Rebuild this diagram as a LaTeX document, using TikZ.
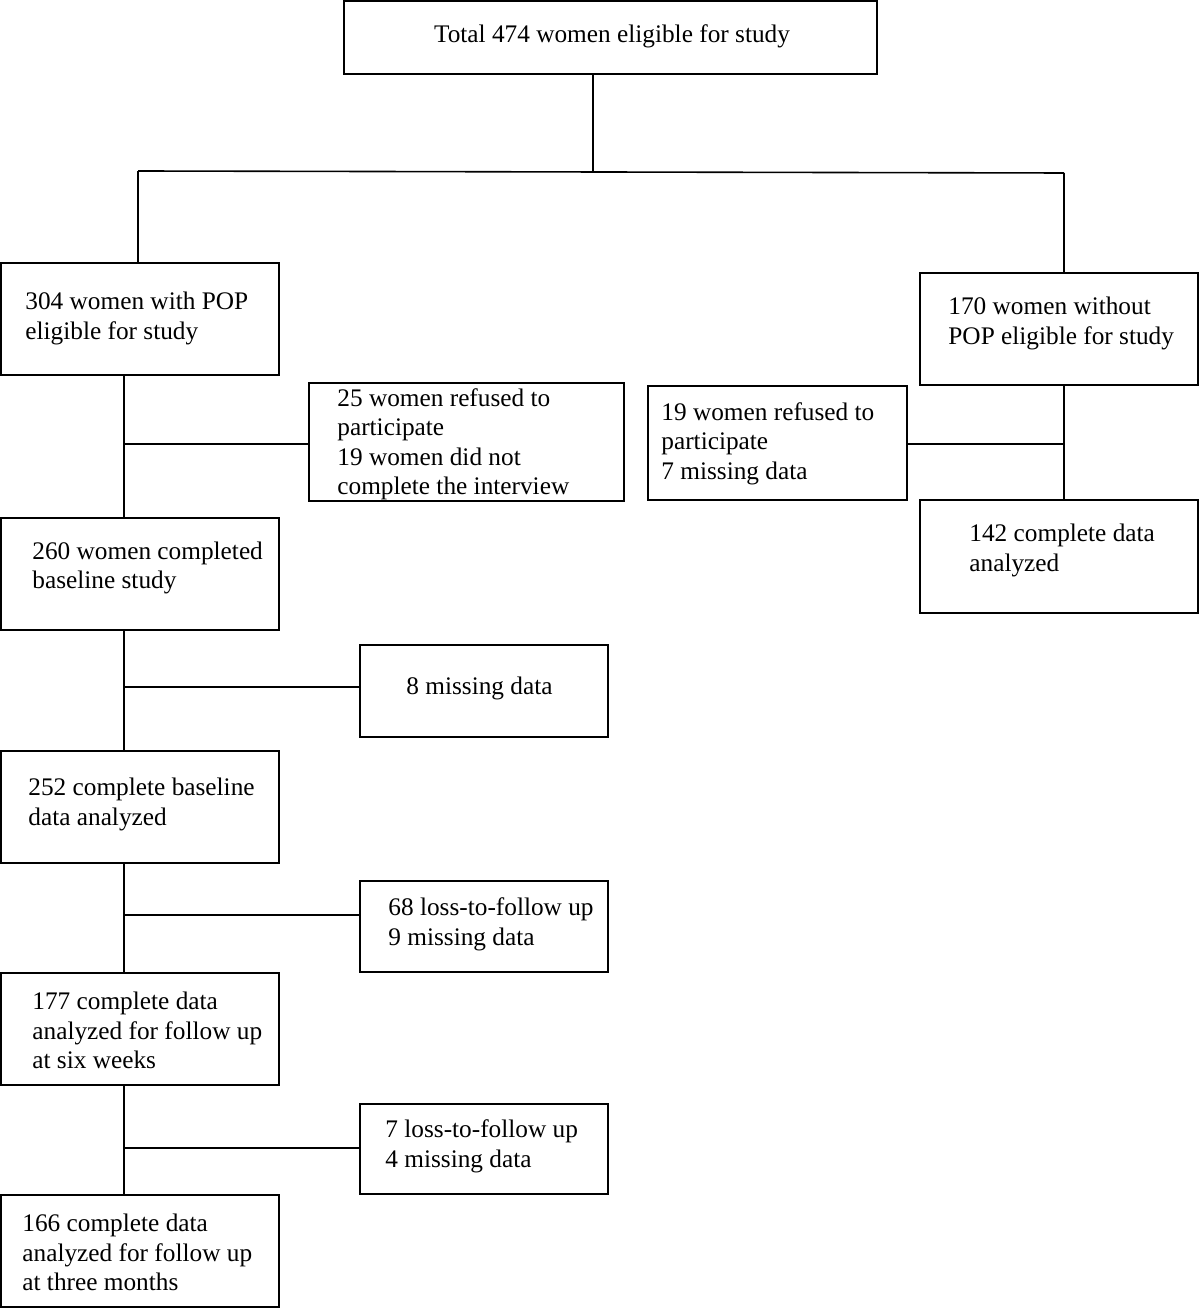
\documentclass[tikz,border=0pt]{standalone}
\usepackage{fontspec}
\setmainfont{Liberation Serif}
\begin{document}
\begin{tikzpicture}[x=0.5pt,y=-0.5pt,
  box/.style={draw, line width=0.8pt, rectangle, inner sep=0pt, outer sep=0pt},
  txt/.style={anchor=west, align=left, inner sep=0pt, yshift=-1pt, font=\fontsize{12.65}{14.75}\selectfont},
  conn/.style={line width=0.8pt}]
\useasboundingbox (0,0) rectangle (1200,1309);
% boxes
\node[box, minimum width=266.5pt, minimum height=36.5pt] (top) at (610.5,37.5) {};
\node[box, minimum width=139pt, minimum height=56pt] (b304) at (140,319) {};
\node[box, minimum width=139pt, minimum height=56pt] (b170) at (1059,329) {};
\node[box, minimum width=157.5pt, minimum height=59pt] (b25) at (466.5,442) {};
\node[box, minimum width=129.5pt, minimum height=57pt] (b19) at (777.5,443) {};
\node[box, minimum width=139pt, minimum height=56pt] (b260) at (140,574) {};
\node[box, minimum width=139pt, minimum height=56.5pt] (b142) at (1059,556.5) {};
\node[box, minimum width=124pt, minimum height=46pt] (b8) at (484,691) {};
\node[box, minimum width=139pt, minimum height=56pt] (b252) at (140,807) {};
\node[box, minimum width=124pt, minimum height=45.5pt] (b68) at (484,926.5) {};
\node[box, minimum width=139pt, minimum height=56pt] (b177) at (140,1029) {};
\node[box, minimum width=124pt, minimum height=45pt] (b7) at (484,1149) {};
\node[box, minimum width=139pt, minimum height=56pt] (b166) at (140,1251) {};
% texts
\node[txt, anchor=center] (t0) at (612,34) {Total 474 women eligible for study};
\node[txt] (t1) at (25,316.5) {304 women with POP\\eligible for study};
\node[txt] (t2) at (948,321.5) {170 women without\\POP eligible for study};
\node[txt] (t3) at (337,442.5) {25 women refused to\\participate\\19 women did not\\complete the interview};
\node[txt] (t4) at (661,441.5) {19 women refused to\\participate\\7 missing data};
\node[txt] (t5) at (32,566) {260 women completed\\baseline study};
\node[txt] (t6) at (969,548.5) {142 complete data\\analyzed};
\node[txt] (t7) at (406,686) {8 missing data};
\node[txt] (t8) at (28,802.5) {252 complete baseline\\data analyzed};
\node[txt] (t9) at (388,922.5) {68 loss-to-follow up\\9 missing data};
\node[txt] (t10) at (32,1028.5) {177 complete data\\analyzed for follow up\\at six weeks};
\node[txt] (t11) at (385,1144.5) {7 loss-to-follow up\\4 missing data};
\node[txt] (t12) at (22,1250.5) {166 complete data\\analyzed for follow up\\at three months};
% junction coordinates
\coordinate (j0) at (593,172);
\coordinate (jL) at (138,171);
\coordinate (jR) at (1064,173);
\coordinate (s1) at (124,444);
\coordinate (r1) at (1064,444);
\coordinate (s2) at (124,687);
\coordinate (s3) at (124,915);
\coordinate (s4) at (124,1148);
% connectors
\draw[conn] (top.south -| j0) -- (j0);
\draw[conn] (jL) -- (jR);
\draw[conn] (jL) -- (b304.north -| jL);
\draw[conn] (jR) -- (b170.north -| jR);
\draw[conn] (b304.south -| s1) -- (b260.north -| s1);
\draw[conn] (s1) -- (b25.west |- s1);
\draw[conn] (b170.south -| r1) -- (b142.north -| r1);
\draw[conn] (r1) -- (b19.east |- r1);
\draw[conn] (b260.south -| s2) -- (b252.north -| s2);
\draw[conn] (s2) -- (b8.west |- s2);
\draw[conn] (b252.south -| s3) -- (b177.north -| s3);
\draw[conn] (s3) -- (b68.west |- s3);
\draw[conn] (b177.south -| s4) -- (b166.north -| s4);
\draw[conn] (s4) -- (b7.west |- s4);
\end{tikzpicture}
\end{document}
